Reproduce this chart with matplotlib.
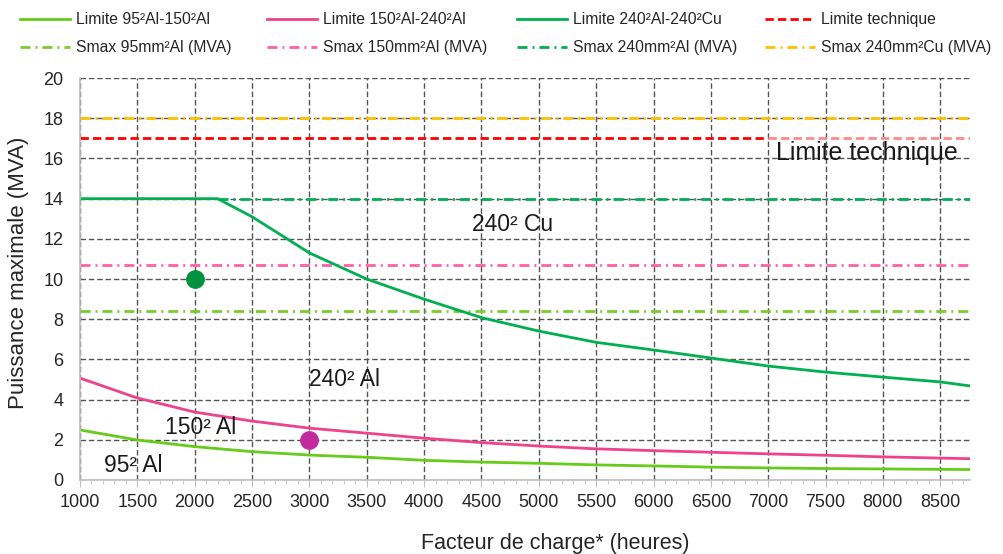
import matplotlib
matplotlib.use("Agg")
import matplotlib.pyplot as plt
from matplotlib.ticker import MultipleLocator

plt.rcParams['font.family'] = ['Liberation Sans', 'DejaVu Sans']

# ---- data ----
x_curve = [1000, 1500, 2000, 2500, 3000, 3500, 4000, 4500, 5000, 5500, 6000,
           6500, 7000, 7500, 8000, 8500, 8760]
lim_95_150 = [2.49, 1.99, 1.66, 1.41, 1.24, 1.13, 0.98, 0.89, 0.83, 0.75, 0.70,
              0.64, 0.60, 0.57, 0.55, 0.53, 0.52]
lim_150_240 = [5.07, 4.08, 3.38, 2.93, 2.58, 2.33, 2.08, 1.86, 1.69, 1.55, 1.46,
               1.38, 1.30, 1.23, 1.15, 1.09, 1.06]
x_240 = [1000, 1500, 2000, 2200, 2500, 3000, 3500, 4000, 4500, 5000, 5500, 6000,
         6500, 7000, 7500, 8000, 8500, 8760]
lim_240al_240cu = [14.0, 14.0, 14.0, 14.0, 13.1, 11.3, 10.0, 9.0, 8.08, 7.41, 6.85,
                   6.47, 6.07, 5.67, 5.37, 5.12, 4.88, 4.68]
x_range = [1000, 8760]
limite_technique = 17.0
tech_fade_start = 7000
smax_95 = 8.4
smax_150 = 10.7
smax_240al = 14.0
smax_240cu = 18.0
smax_240al_start = 2200
points_x = [2000, 3000]
points_y = [10, 2]
points_colors = ['#00923F', '#C42A9E']

labels_legend = ['Limite 95²Al-150²Al', 'Limite 150²Al-240²Al', 'Limite 240²Al-240²Cu',
                 'Limite technique', 'Smax 95mm²Al (MVA)', 'Smax 150mm²Al (MVA)',
                 'Smax 240mm²Al (MVA)', 'Smax 240mm²Cu (MVA)']

c_lime = '#66CC1A'
c_pink = '#F0418C'
c_green = '#00B050'
c_red = '#FF0000'
c_red_fade = '#FF8A8A'
c_orange = '#FFC000'
c_pink2 = '#FF5FAA'
c_lime2 = '#7ACC2A'

fig = plt.figure(figsize=(10.04, 5.54), dpi=100)
ax = fig.add_axes([0.0797, 0.1336, 0.8865, 0.7254])

dd = (3.6, 1.8, 0.7, 1.8)
h_s95, = ax.plot(x_range, [smax_95] * 2, color=c_lime2, lw=2, dashes=dd)
h_s150, = ax.plot(x_range, [smax_150] * 2, color=c_pink2, lw=2, dashes=dd)
h_s240a, = ax.plot([smax_240al_start, x_range[1]], [smax_240al] * 2, color=c_green, lw=2, dashes=dd)
h_s240c, = ax.plot(x_range, [smax_240cu] * 2, color=c_orange, lw=2, dashes=dd)
h_tech, = ax.plot([x_range[0], tech_fade_start], [limite_technique] * 2, color=c_red, lw=2,
                  dashes=(3, 1.5))
ax.plot([tech_fade_start, x_range[1]], [limite_technique] * 2, color=c_red_fade, lw=2,
        dashes=(3, 1.5))
h_l95, = ax.plot(x_curve, lim_95_150, color=c_lime, lw=2)
h_l150, = ax.plot(x_curve, lim_150_240, color=c_pink, lw=2)
h_l240, = ax.plot(x_240, lim_240al_240cu, color=c_green, lw=2)

for px, py, pc in zip(points_x, points_y, points_colors):
    ax.plot(px, py, 'o', color=pc, ms=12.5, zorder=5)

ax.set_xlim(1000, 8760)
ax.set_ylim(0, 20)
ax.xaxis.set_major_locator(MultipleLocator(500))
ax.xaxis.set_minor_locator(MultipleLocator(100))
ax.yaxis.set_major_locator(MultipleLocator(2))
ax.grid(True, which='major', color='#555555', lw=1, linestyle=(0, (4, 2)))
ax.set_axisbelow(True)
for s in ['top', 'right']:
    ax.spines[s].set_visible(False)
for s in ['left', 'bottom']:
    ax.spines[s].set_color('#BFBFBF')
    ax.spines[s].set_linewidth(1.2)
ax.tick_params(axis='both', which='major', labelsize=13, color='#BFBFBF', length=5,
               labelcolor='#262626')
ax.tick_params(axis='x', which='minor', color='#BFBFBF', length=3)
ax.tick_params(axis='x', pad=5)
ax.tick_params(axis='y', pad=12, length=0)

ax.set_xlabel('Facteur de charge* (heures)', fontsize=15.5, color='#262626')
ax.xaxis.set_label_coords(0.534, -0.133)
ax.set_ylabel('Puissance maximale (MVA)', fontsize=16, color='#262626')
ax.yaxis.set_label_coords(-0.057, 0.515)

tk = dict(fontsize=16.5, color='#1a1a1a', ha='center', va='center')
ax.text(4770, 12.7, '240² Cu', **tk)
ax.text(3310, 5.0, '240² Al', **tk)
ax.text(2050, 2.6, '150² Al', **tk)
ax.text(1460, 0.7, '95² Al', **tk)
ax.text(7860, 16.25, 'Limite technique', fontsize=18, color='#1a1a1a', ha='center', va='center')

# legend: four columns placed at fixed pitch
col_handles = [[h_l95, h_s95], [h_l150, h_s150], [h_l240, h_s240a], [h_tech, h_s240c]]
col_labels = [[labels_legend[0], labels_legend[4]], [labels_legend[1], labels_legend[5]],
              [labels_legend[2], labels_legend[6]], [labels_legend[3], labels_legend[7]]]
col_x = [20, 267, 517, 765]
for cx, hh, ll in zip(col_x, col_handles, col_labels):
    leg = fig.legend(hh, ll, loc='upper left', bbox_to_anchor=(cx / 1004, 1 - 12 / 554),
                     frameon=False, fontsize=11.3, handlelength=3.2,
                     labelspacing=0.85, handletextpad=0.35, borderaxespad=0, borderpad=0)
    for t in leg.get_texts():
        t.set_color('#262626')

fig.savefig('out.png', dpi=100)
